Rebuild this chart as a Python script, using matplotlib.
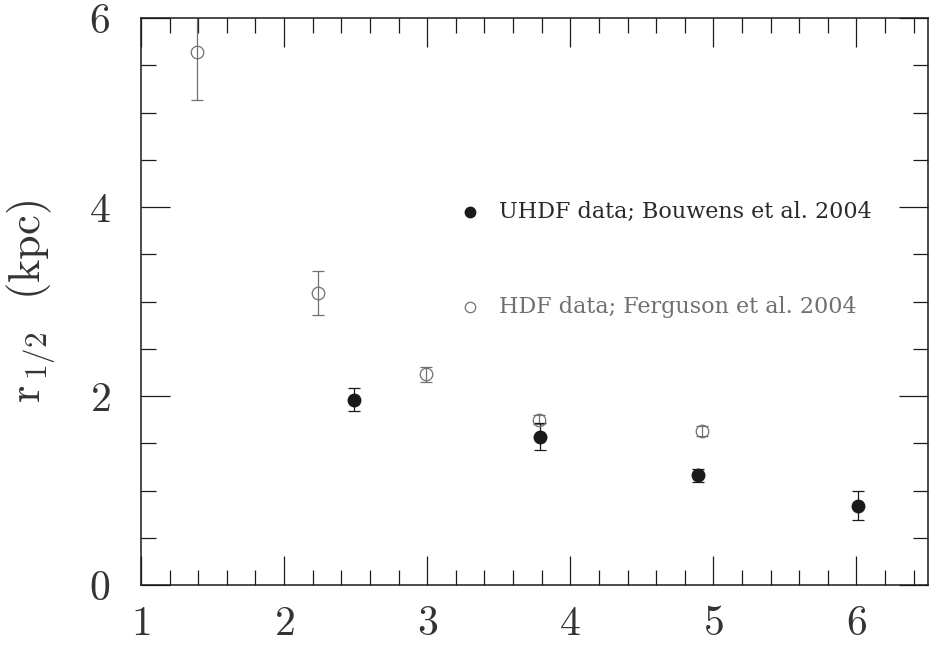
import numpy as np
import matplotlib
matplotlib.use("Agg")
import matplotlib.pyplot as plt
from matplotlib.ticker import MultipleLocator

# UHDF data (Bouwens et al. 2004)
z_u = [2.49, 3.79, 4.89, 6.01]
r_u = [1.96, 1.57, 1.16, 0.84]
e_u = [0.12, 0.14, 0.07, 0.15]

# HDF data (Ferguson et al. 2004)
z_h = [1.39, 2.24, 2.99, 3.78, 4.92]
r_h = [5.64, 3.09, 2.23, 1.75, 1.63]
e_h = [0.51, 0.23, 0.08, 0.05, 0.05]

lab_u = "UHDF data; Bouwens et al. 2004"
lab_h = "HDF data; Ferguson et al. 2004"

black = "#1a1a1a"
grey = "#707070"

plt.rcParams["font.family"] = ["cmr10", "DejaVu Serif"]
plt.rcParams["mathtext.fontset"] = "cm"
plt.rcParams["axes.formatter.use_mathtext"] = True

fig = plt.figure(figsize=(9.34, 6.45), dpi=100)
ax = fig.add_axes([141/934, 1-585/645, (928-141)/934, (585-18)/645])

ax.errorbar(z_h, r_h, yerr=e_h, fmt="o", ms=9, mfc="none", mec=grey, mew=0.9,
            ecolor=grey, elinewidth=0.9, capsize=4.5, capthick=0.9)
ax.errorbar(z_u, r_u, yerr=e_u, fmt="o", ms=9, mfc=black, mec=black,
            ecolor=black, elinewidth=0.9, capsize=4.5, capthick=0.9)

# legend drawn by hand, as in the original
ax.plot([3.30], [3.95], "o", ms=7.5, color=black)
ax.text(3.50, 3.95, lab_u, family="DejaVu Serif", fontsize=16, color="#2a2a2a", va="center")
ax.plot([3.30], [2.94], "o", ms=7.5, mfc="none", mec=grey, mew=0.9)
ax.text(3.50, 2.94, lab_h, family="DejaVu Serif", fontsize=16, color=grey, va="center")

ax.set_xlim(1, 6.5)
ax.set_ylim(0, 6)
ax.xaxis.set_major_locator(MultipleLocator(1))
ax.xaxis.set_minor_locator(MultipleLocator(0.2))
ax.yaxis.set_major_locator(MultipleLocator(2))
ax.yaxis.set_minor_locator(MultipleLocator(0.5))
ax.tick_params(which="both", direction="in", top=True, right=True, width=0.9, color=black)
ax.tick_params(which="major", length=21, labelsize=30, labelcolor="#333333", pad=15)
ax.tick_params(which="minor", length=10.5)
ax.tick_params(axis="y", which="major", pad=22)
for s in ax.spines.values():
    s.set_linewidth(1.1)
    s.set_color(black)

ax.set_ylabel(r"$\mathrm{r}_{\,1/2}$  (kpc)", fontsize=32, color="#333333")
ax.yaxis.set_label_coords(-0.105, 0.5)

fig.savefig("out.png", dpi=100)
